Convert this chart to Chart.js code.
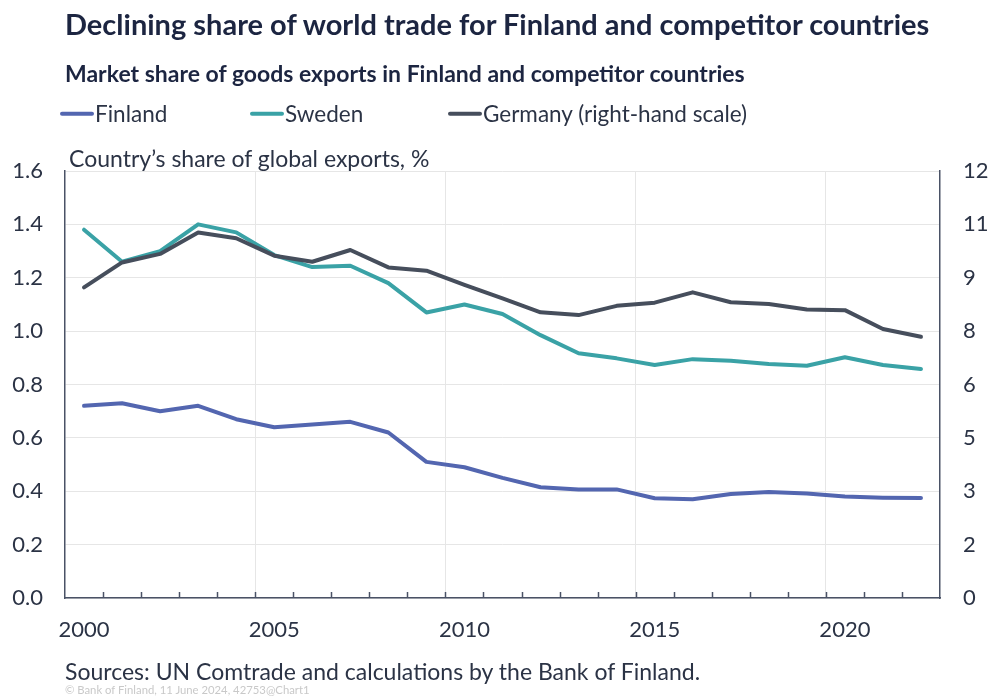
<!DOCTYPE html>
<html>
<head>
<meta charset="utf-8">
<script src="https://cdn.jsdelivr.net/npm/chart.js@4.4.1/dist/chart.umd.min.js"></script>
<style>
  body { margin: 0; background: #fff; }
  #wrap { position: relative; width: 992px; height: 700px; font-family: Lato, "Open Sans", sans-serif; color: #1c2541; }
  #chart { position: absolute; left: 0; top: 0; }
  .txt { position: absolute; white-space: nowrap; line-height: 1; transform: translateY(-50%); }
  #title { left: 65px; top: 23px; font-size: 29px; font-weight: bold; }
  #subtitle { left: 65px; top: 73px; font-size: 23px; font-weight: bold; }
  #axisTitle { left: 69px; top: 158px; font-size: 23px; color: #2b3345; }
  #source { left: 65px; top: 671px; font-size: 23px; color: #2b3345; }
  #copy { left: 65px; top: 690px; font-size: 11.3px; color: #c9c9c9; }
  .leg { position: absolute; top: 114px; transform: translateY(-50%); display: flex; align-items: center; font-size: 22.5px; color: #2b3345; line-height: 1; }
  .leg span.mark { display: inline-block; width: 34px; height: 4px; border-radius: 2px; margin-right: 1px; }
</style>
</head>
<body>
<div id="wrap">
  <canvas id="chart" width="992" height="700"></canvas>
  <div class="txt" id="title">Declining share of world trade for Finland and competitor countries</div>
  <div class="txt" id="subtitle">Market share of goods exports in Finland and competitor countries</div>
  <div id="legend"></div>
  <div class="txt" id="axisTitle">Country’s share of global exports, %</div>
  <div class="txt" id="source">Sources: UN Comtrade and calculations by the Bank of Finland.</div>
  <div class="txt" id="copy">© Bank of Finland, 11 June 2024, 42753@Chart1</div>
</div>
<script>
// years on the x axis
const years = ['2000', '2001', '2002', '2003', '2004', '2005', '2006', '2007', '2008', '2009', '2010', '2011',
  '2012', '2013', '2014', '2015', '2016', '2017', '2018', '2019', '2020', '2021', '2022'];

// share of global exports, % (left scale)
const finland = [0.72, 0.73, 0.70, 0.72, 0.67, 0.64, 0.65, 0.66, 0.62, 0.51, 0.49, 0.45,
  0.415, 0.407, 0.407, 0.374, 0.370, 0.390, 0.397, 0.392, 0.380, 0.376, 0.375];
const sweden = [1.38, 1.26, 1.30, 1.40, 1.37, 1.285, 1.24, 1.245, 1.18, 1.07, 1.10, 1.064,
  0.985, 0.917, 0.898, 0.873, 0.895, 0.889, 0.877, 0.870, 0.902, 0.873, 0.858];

// Germany on the right-hand scale
const germany = [8.73, 9.43, 9.67, 10.27, 10.11, 9.62, 9.45, 9.78, 9.29, 9.20, 8.80, 8.42,
  8.03, 7.95, 8.21, 8.30, 8.59, 8.31, 8.26, 8.11, 8.09, 7.56, 7.34];

const seriesNames = ['Finland', 'Sweden', 'Germany (right-hand scale)'];
const seriesColors = ['#5366b0', '#3aa2a6', '#464e5c'];

const labelFont = { family: 'Lato, "Open Sans", sans-serif', size: 22 };
const axisColor = '#4a5266';
const gridColor = '#e6e6e6';

// little tick marks pointing up into the plot, between the years
const innerTicks = {
  id: 'innerTicks',
  afterDraw(chart) {
    const x = chart.scales.x;
    const bottom = chart.chartArea.bottom;
    const ctx = chart.ctx;
    ctx.save();
    ctx.strokeStyle = axisColor;
    ctx.lineWidth = 1.5;
    for (let i = 1; i < years.length; i++) {
      const px = Math.round((x.getPixelForValue(i - 1) + x.getPixelForValue(i)) / 2) + 0.5;
      ctx.beginPath();
      ctx.moveTo(px, bottom);
      ctx.lineTo(px, bottom - 6);
      ctx.stroke();
    }
    ctx.restore();
  }
};

let chartDraw = function () {
  let ctx = document.getElementById('chart').getContext('2d');

  window.tradeChart = new Chart(ctx, {
    type: 'line',
    data: {
      labels: years,
      datasets: [
        { label: seriesNames[0], data: finland, borderColor: seriesColors[0], yAxisID: 'y', order: 1 },
        { label: seriesNames[1], data: sweden, borderColor: seriesColors[1], yAxisID: 'y', order: 2 },
        { label: seriesNames[2], data: germany, borderColor: seriesColors[2], yAxisID: 'y2', order: 0 }
      ]
    },
    options: {
      responsive: false,
      animation: false,
      layout: { padding: { top: 171, left: 0, right: 0, bottom: 0 } },
      elements: {
        point: { radius: 0 },
        line: { borderWidth: 4, tension: 0, borderJoinStyle: 'round', borderCapStyle: 'round' }
      },
      plugins: {
        legend: { display: false },
        tooltip: { enabled: false }
      },
      scales: {
        x: {
          offset: true,
          afterFit: function (scale) { scale.height = 102; },
          grid: {
            offset: true,
            drawTicks: false,
            lineWidth: 1,
            color: function (c) {
              return (c.index !== undefined && c.index > 0 && c.index % 5 === 0) ? gridColor : 'rgba(0,0,0,0)';
            }
          },
          border: { color: axisColor, width: 1.5 },
          ticks: {
            autoSkip: false,
            maxRotation: 0,
            padding: 19,
            color: '#2b3345',
            font: labelFont,
            callback: function (v, i) { return i % 5 === 0 ? years[i] : ''; }
          }
        },
        y: {
          position: 'left',
          min: 0,
          max: 1.6,
          afterFit: function (scale) { scale.width = 65; },
          grid: { color: gridColor, drawTicks: false },
          border: { color: axisColor, width: 1.5 },
          ticks: {
            stepSize: 0.2,
            padding: 22,
            color: '#2b3345',
            font: labelFont,
            callback: function (v) { return v.toFixed(1); }
          }
        },
        y2: {
          position: 'right',
          min: 0,
          max: 12,
          afterFit: function (scale) { scale.width = 52; },
          grid: { display: false, drawTicks: false },
          border: { color: axisColor, width: 1.5 },
          ticks: {
            stepSize: 1.5,
            padding: 23,
            color: '#2b3345',
            font: labelFont,
            callback: function (v) { return Math.round(v); }
          }
        }
      }
    },
    plugins: [innerTicks]
  });
};

let legendDraw = function () {
  const positions = [60, 250, 448];
  const div = document.getElementById('legend');
  seriesNames.forEach(function (name, i) {
    div.innerHTML += `<div class="leg" style="left:${positions[i]}px"><span class="mark" style="background:${seriesColors[i]}"></span>${name}</div>`;
  });
};

legendDraw();
chartDraw();
</script>
</body>
</html>
